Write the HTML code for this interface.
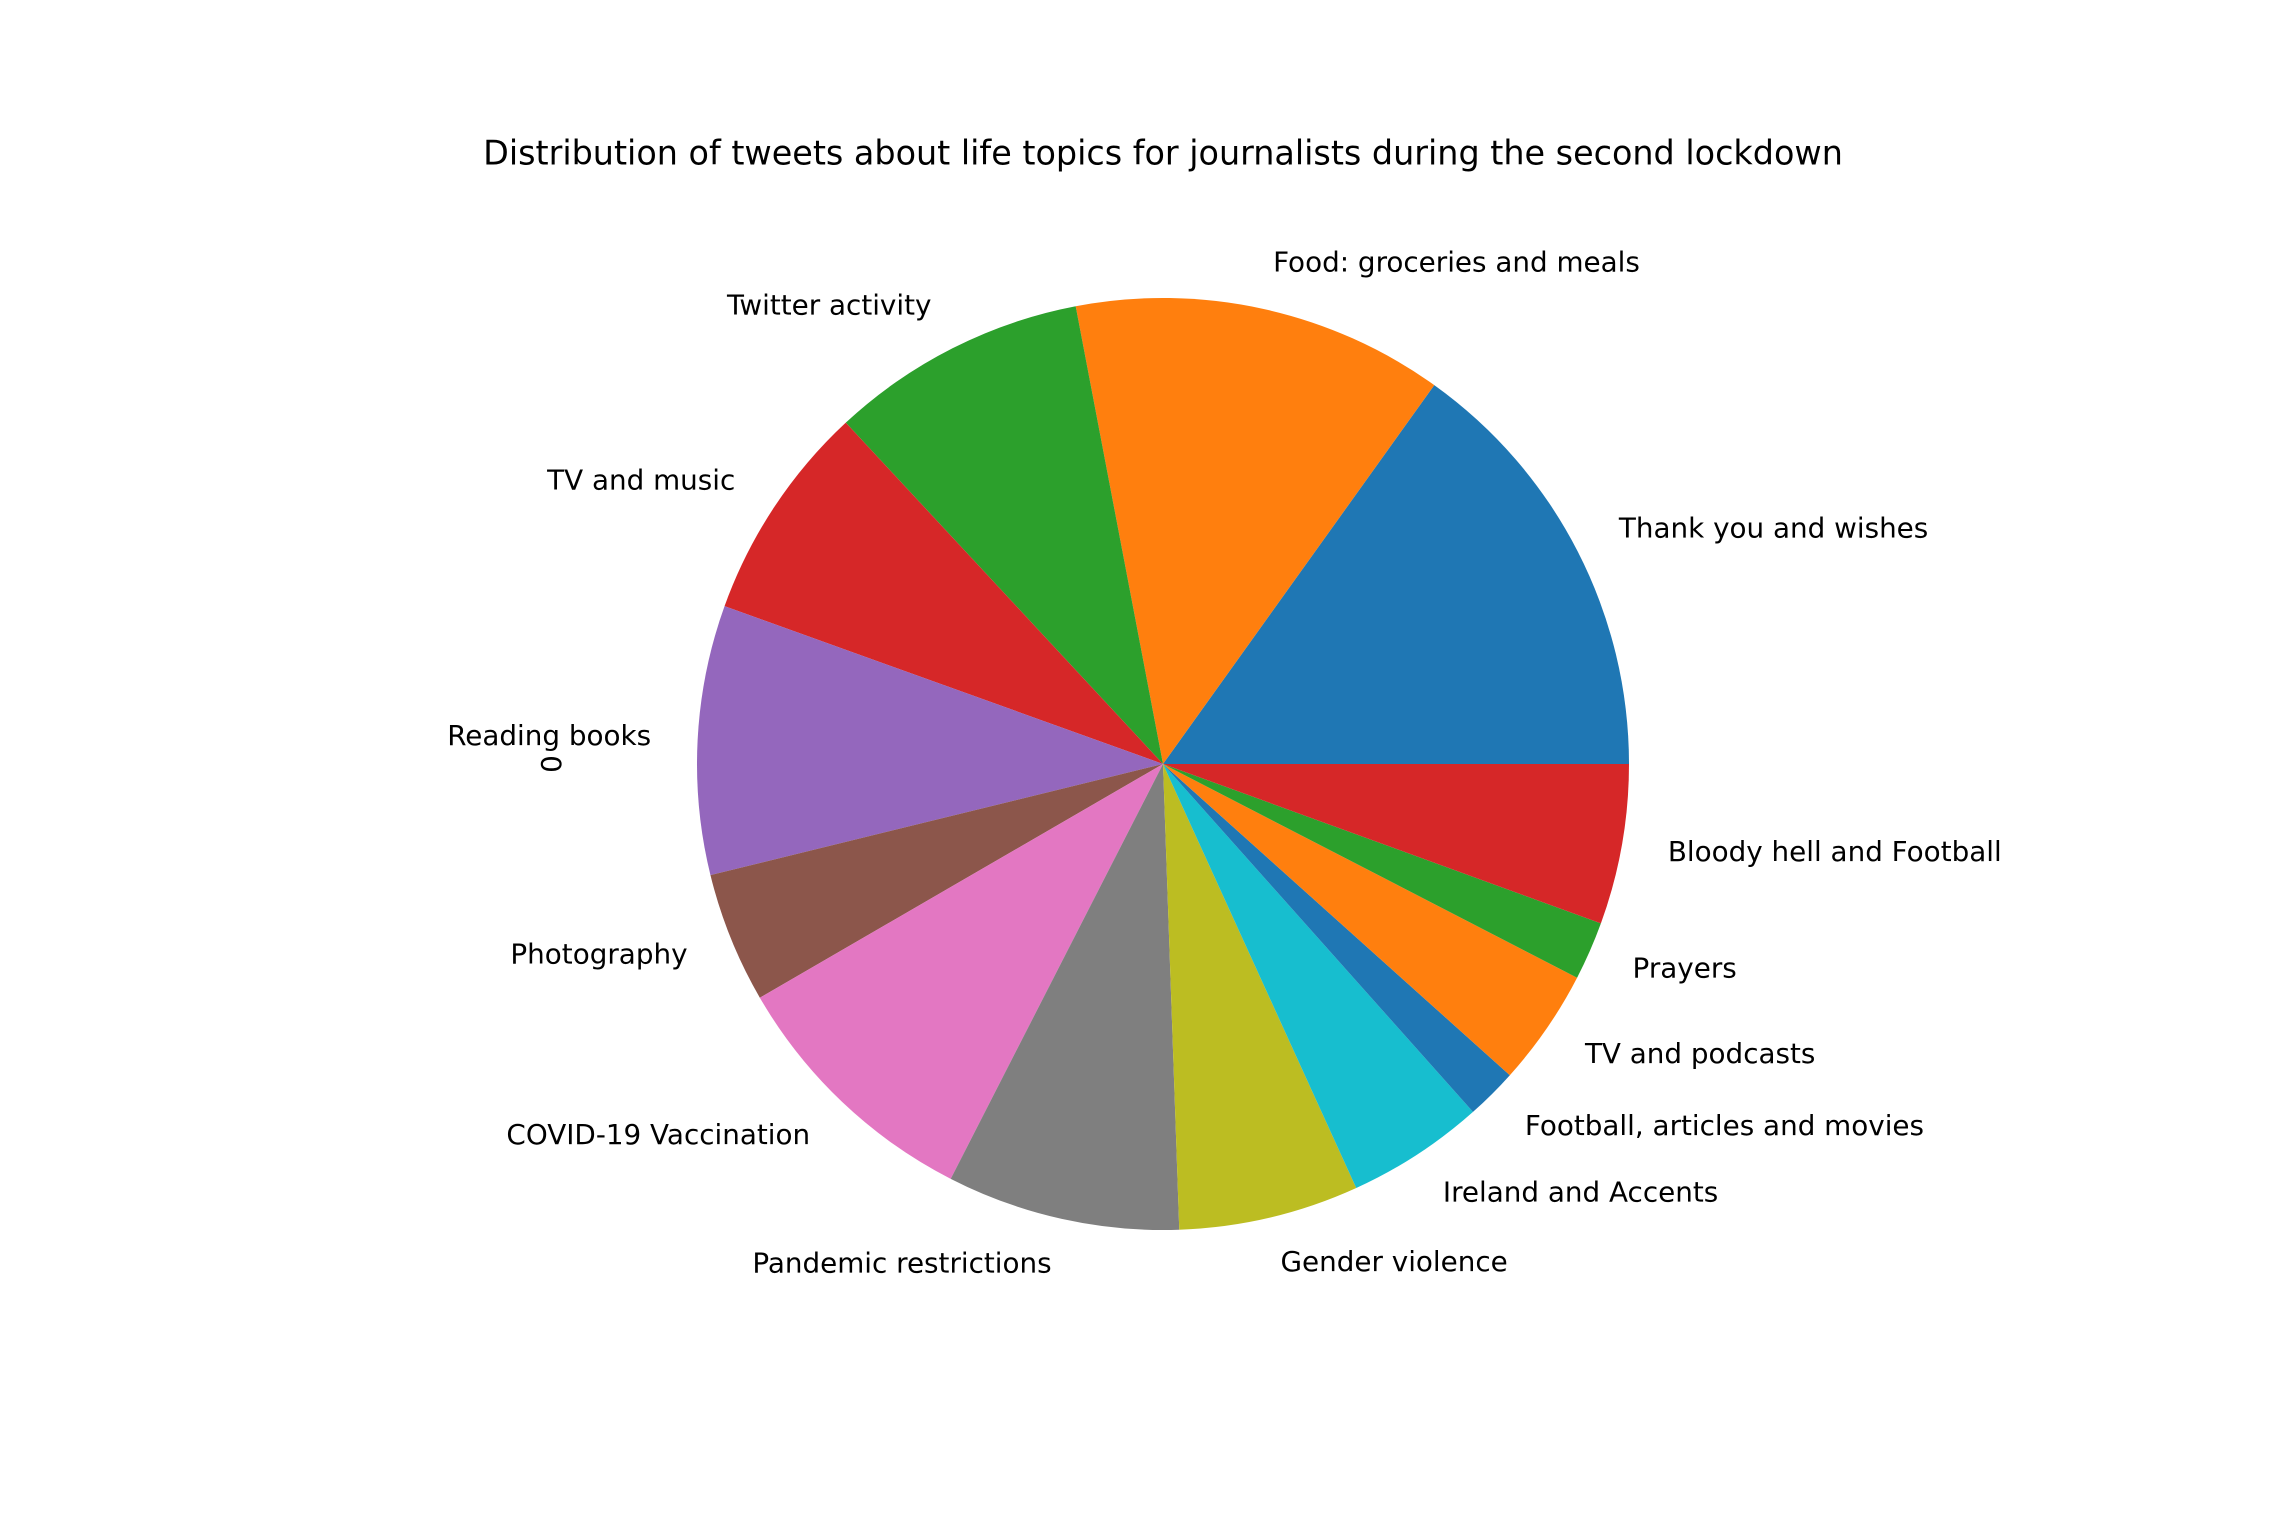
<!DOCTYPE html>
<html><head><meta charset="utf-8"><style>
html,body{margin:0;padding:0;background:#fff;}
svg{display:block;font-family:"DejaVu Sans","Liberation Sans",sans-serif;}
</style></head><body>
<svg id="chart" width="2270" height="1514" viewBox="0 0 2270 1514">
<text x="1163" y="155" font-size="33.4" text-anchor="middle" dominant-baseline="middle" fill="#000">Distribution of tweets about life topics for journalists during the second lockdown</text>
<text transform="translate(553,764) rotate(-90)" font-size="27.8" text-anchor="middle" dominant-baseline="middle" fill="#000">0</text>
<g id="slices"></g>
<g id="labels"></g>
</svg>
<script>
const categories = ["Thank you and wishes","Food: groceries and meals","Twitter activity","TV and music","Reading books","Photography","COVID-19 Vaccination","Pandemic restrictions","Gender violence","Ireland and Accents","Football, articles and movies","TV and podcasts","Prayers","Bloody hell and Football"];
const values = [54.4,46.4,32.1,27.3,33.6,16.3,32.8,29.1,22.5,17.2,6.4,14.6,7.3,20.0];
const colors = ["#1f77b4","#ff7f0e","#2ca02c","#d62728","#9467bd","#8c564b","#e377c2","#7f7f7f","#bcbd22","#17becf","#1f77b4","#ff7f0e","#2ca02c","#d62728"];
const cx=1163, cy=764, r=466;
const NS="http://www.w3.org/2000/svg";
const total=values.reduce((a,b)=>a+b,0);
const sl=document.getElementById('slices'), lb=document.getElementById('labels');
let a0=0;
values.forEach((v,i)=>{
  const a1=a0+v/total*2*Math.PI;
  const x0=cx+r*Math.cos(a0), y0=cy-r*Math.sin(a0);
  const x1=cx+r*Math.cos(a1), y1=cy-r*Math.sin(a1);
  const large=(a1-a0)>Math.PI?1:0;
  const p=document.createElementNS(NS,'path');
  p.setAttribute('d',`M${cx},${cy} L${x0},${y0} A${r},${r} 0 ${large} 0 ${x1},${y1} Z`);
  p.setAttribute('fill',colors[i]);
  
  
  sl.appendChild(p);
  const m=(a0+a1)/2;
  const lx=cx+1.1*r*Math.cos(m), ly=cy-1.1*r*Math.sin(m);
  const t=document.createElementNS(NS,'text');
  t.setAttribute('x',lx); t.setAttribute('y',ly);
  t.setAttribute('font-size','27.8');
  t.setAttribute('dominant-baseline','middle');
  t.setAttribute('text-anchor',Math.cos(m)>0?'start':'end');
  t.textContent=categories[i];
  
  
  lb.appendChild(t);
  a0=a1;
});
</script>
</body></html>
